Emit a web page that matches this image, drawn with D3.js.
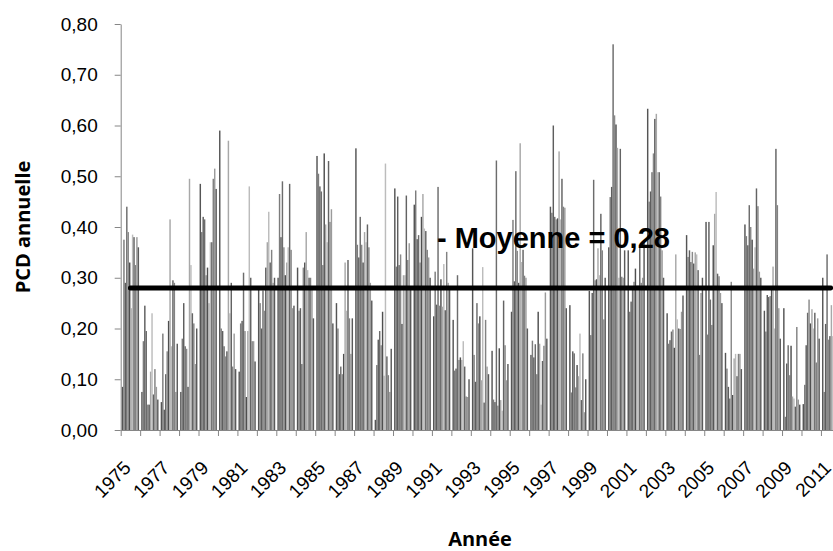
<!DOCTYPE html>
<html>
<head>
<meta charset="utf-8">
<script src="https://cdn.jsdelivr.net/npm/d3@7"></script>
<style>
  body { margin: 0; background: #fff; overflow: hidden; }
</style>
</head>
<body>
<div id="chart"></div>
<script>
// categories (years) and the labels shown every other year
var annees = [1975, 1976, 1977, 1978, 1979, 1980, 1981, 1982, 1983, 1984,
  1985, 1986, 1987, 1988, 1989, 1990, 1991, 1992, 1993, 1994,
  1995, 1996, 1997, 1998, 1999, 2000, 2001, 2002, 2003, 2004,
  2005, 2006, 2007, 2008, 2009, 2010, 2011];
var anneesAffichees = [1975, 1977, 1979, 1981, 1983, 1985, 1987, 1989, 1991,
  1993, 1995, 1997, 1999, 2001, 2003, 2005, 2007, 2009, 2011];
var yTicks = [0, 0.1, 0.2, 0.3, 0.4, 0.5, 0.6, 0.7, 0.8];
var moyenne = 0.28;

// 12 bars per year
var pcd = [
  [0.085, 0.375, 0.29, 0.44, 0.39, 0.33, 0.24, 0.385, 0.38, 0.325, 0.38, 0.36],     // 1975
  [0.075, 0.175, 0.245, 0.195, 0.05, 0.05, 0.115, 0.23, 0.07, 0.12, 0.085, 0.06],   // 1976
  [0.055, 0.19, 0.04, 0.11, 0.155, 0.215, 0.415, 0.165, 0.295, 0.29, 0.075, 0.17],  // 1977
  [0.075, 0.18, 0.25, 0.165, 0.16, 0.085, 0.495, 0.325, 0.23, 0.21, 0.13, 0.2],     // 1978
  [0.485, 0.39, 0.42, 0.415, 0.305, 0.32, 0.25, 0.37, 0.37, 0.495, 0.515, 0.475],   // 1979
  [0.59, 0.2, 0.195, 0.165, 0.145, 0.155, 0.57, 0.23, 0.29, 0.125, 0.19, 0.12],     // 1980
  [0.115, 0.21, 0.215, 0.31, 0.195, 0.065, 0.195, 0.48, 0.3, 0.175, 0.175, 0.135],  // 1981
  [0.28, 0.25, 0.2, 0.275, 0.235, 0.32, 0.37, 0.43, 0.33, 0.355, 0.29, 0.3],        // 1982
  [0.3, 0.465, 0.38, 0.49, 0.36, 0.305, 0.33, 0.36, 0.485, 0.355, 0.24, 0.245],     // 1983
  [0.32, 0.235, 0.24, 0.13, 0.32, 0.33, 0.39, 0.315, 0.3, 0.3, 0.28, 0.22],         // 1984
  [0.54, 0.505, 0.48, 0.47, 0.325, 0.545, 0.405, 0.37, 0.53, 0.41, 0.435, 0.21],    // 1985
  [0.25, 0.2, 0.11, 0.125, 0.11, 0.15, 0.33, 0.235, 0.335, 0.22, 0.15, 0.22],       // 1986
  [0.555, 0.365, 0.34, 0.42, 0.365, 0.33, 0.39, 0.37, 0.405, 0.36, 0.29, 0.255],    // 1987
  [0.02, 0.128, 0.178, 0.195, 0.167, 0.233, 0.107, 0.525, 0.145, 0.108, 0.075, 0.16], // 1988
  [0.476, 0.322, 0.46, 0.325, 0.346, 0.209, 0.305, 0.305, 0.462, 0.335, 0.368, 0.28], // 1989
  [0.444, 0.472, 0.376, 0.384, 0.33, 0.42, 0.465, 0.397, 0.392, 0.355, 0.34, 0.3],  // 1990
  [0.224, 0.312, 0.247, 0.479, 0.245, 0.297, 0.243, 0.327, 0.236, 0.351, 0.29, 0.28], // 1991
  [0.217, 0.117, 0.121, 0.305, 0.138, 0.143, 0.138, 0.175, 0.125, 0.066, 0.065, 0.1], // 1992
  [0.358, 0.148, 0.095, 0.25, 0.21, 0.224, 0.098, 0.321, 0.054, 0.217, 0.125, 0.11], // 1993
  [0.156, 0.06, 0.055, 0.531, 0.048, 0.161, 0.059, 0.038, 0.255, 0.167, 0.098, 0.13], // 1994
  [0.233, 0.414, 0.293, 0.51, 0.353, 0.29, 0.565, 0.331, 0.355, 0.304, 0.3, 0.2],   // 1995
  [0.148, 0.176, 0.143, 0.169, 0.11, 0.233, 0.17, 0.05, 0.136, 0.166, 0.271, 0.18], // 1996
  [0.44, 0.428, 0.6, 0.42, 0.415, 0.417, 0.549, 0.415, 0.495, 0.44, 0.438, 0.24],   // 1997
  [0.246, 0.074, 0.155, 0.151, 0.084, 0.128, 0.106, 0.19, 0.059, 0.151, 0.035, 0.1], // 1998
  [0.274, 0.187, 0.27, 0.493, 0.295, 0.297, 0.358, 0.305, 0.426, 0.354, 0.218, 0.3], // 1999
  [0.36, 0.459, 0.479, 0.76, 0.62, 0.602, 0.556, 0.3, 0.554, 0.302, 0.3, 0.354],    // 2000
  [0.354, 0.233, 0.253, 0.279, 0.292, 0.318, 0.285, 0.285, 0.36, 0.29, 0.3, 0.374], // 2001
  [0.633, 0.45, 0.47, 0.508, 0.545, 0.613, 0.623, 0.508, 0.508, 0.46, 0.354, 0.3], // 2002
  [0.23, 0.17, 0.177, 0.194, 0.198, 0.162, 0.346, 0.218, 0.2, 0.199, 0.233, 0.265], // 2003
  [0.384, 0.341, 0.354, 0.331, 0.351, 0.328, 0.35, 0.346, 0.315, 0.148, 0.27, 0.3], // 2004
  [0.41, 0.188, 0.41, 0.257, 0.207, 0.364, 0.426, 0.469, 0.308, 0.303, 0.27, 0.25], // 2005
  [0.152, 0.121, 0.085, 0.062, 0.292, 0.069, 0.141, 0.15, 0.106, 0.15, 0.15, 0.12], // 2006
  [0.405, 0.382, 0.364, 0.443, 0.4, 0.375, 0.318, 0.36, 0.476, 0.441, 0.312, 0.3],  // 2007
  [0.235, 0.194, 0.266, 0.262, 0.264, 0.279, 0.322, 0.2, 0.554, 0.443, 0.24, 0.18], // 2008
  [0.24, 0.026, 0.131, 0.167, 0.108, 0.166, 0.066, 0.062, 0.046, 0.203, 0.06, 0.05], // 2009
  [0.051, 0.089, 0.167, 0.231, 0.257, 0.21, 0.238, 0.2, 0.231, 0.133, 0.22, 0.18], // 2010
  [0.3, 0.075, 0.209, 0.346, 0.178, 0.185, 0.246, 0.185, 0.2, 0.2, 0.2, 0.2]        // 2011
];

// one grey per series
var gris = ["#555555", "#7c7c7c", "#5e5e5e", "#6c6c6c", "#8a8a8a", "#4f4f4f",
  "#a8a8a8", "#bcbcbc", "#636363", "#828282", "#9b9b9b", "#5a5a5a"];

var svgWidth = 833;
var svgHeight = 551;
var plotLeft = 120.7, plotRight = 840.4, plotTop = 24, plotBottom = 430;

var svg = d3.select("#chart")
  .append("svg")
  .attr("width", svgWidth)
  .attr("height", svgHeight)
  .style("background", "#fff");

// scales
var gap = 1.5 / 13.5;
var x0 = d3.scaleBand()
  .domain(annees)
  .range([plotLeft, plotRight])
  .paddingInner(gap)
  .paddingOuter(gap / 2);
var x1 = d3.scaleBand()
  .domain(d3.range(12))
  .range([0, x0.bandwidth()]);
var xAnnee = d3.scaleLinear()
  .domain([1975, 2012])
  .range([plotLeft, plotRight]);
var y = d3.scaleLinear()
  .domain([0, 0.8])
  .range([plotBottom, plotTop]);

var virgule = function(d) { return d3.format(".2f")(d).replace(".", ","); };

// bars
var groupes = svg.append("g").selectAll("g")
  .data(pcd)
  .enter()
  .append("g")
  .attr("transform", (d, i) => `translate(${x0(annees[i])},0)`);

groupes.selectAll("rect")
  .data(d => d)
  .enter()
  .append("rect")
  .attr("x", (d, i) => x1(i))
  .attr("width", x1.bandwidth())
  .attr("y", d => y(d))
  .attr("height", d => plotBottom - y(d))
  .attr("fill", (d, i) => gris[i]);

// y axis
var yAxis = svg.append("g")
  .attr("transform", `translate(${plotLeft},0)`)
  .call(d3.axisLeft(y).tickValues(yTicks).tickSize(6).tickSizeOuter(0)
    .tickPadding(17).tickFormat(virgule));
yAxis.selectAll("text")
  .attr("font-family", "'Liberation Sans', Arial, sans-serif")
  .attr("font-size", 19)
  .attr("fill", "#000");

// x axis: tick marks between years
var xAxis = svg.append("g")
  .attr("transform", `translate(0,${plotBottom})`)
  .call(d3.axisBottom(xAnnee).tickValues(d3.range(1975, 2013)).tickSize(6)
    .tickSizeOuter(0).tickFormat(""));

svg.selectAll(".domain, .tick line")
  .attr("stroke", "#868686");

// year labels, rotated
svg.append("g").selectAll("text")
  .data(anneesAffichees)
  .enter()
  .append("text")
  .attr("transform", d => `translate(${xAnnee(d + 0.5) + 1.5},469) rotate(-45)`)
  .attr("text-anchor", "end")
  .attr("font-family", "'Liberation Sans', Arial, sans-serif")
  .attr("font-size", 19)
  .attr("fill", "#000")
  .text(d => d);

// mean line
var ligne = d3.line()
  .x(d => x0(d) + x0.bandwidth() / 2)
  .y(() => y(moyenne));
svg.append("path")
  .datum(annees)
  .attr("d", ligne)
  .attr("fill", "none")
  .attr("stroke", "#000")
  .attr("stroke-width", 5)
  .attr("stroke-linecap", "round");

svg.append("text")
  .attr("x", 437)
  .attr("y", 248)
  .attr("font-family", "'Liberation Sans', Arial, sans-serif")
  .attr("font-weight", "bold")
  .attr("font-size", 29)
  .attr("fill", "#000")
  .text("- Moyenne = " + virgule(moyenne));

// axis titles
svg.append("text")
  .attr("transform", "translate(30,227) rotate(-90)")
  .attr("text-anchor", "middle")
  .attr("font-family", "'Open Sans', sans-serif")
  .attr("font-weight", "bold")
  .attr("font-size", 20)
  .attr("fill", "#000")
  .text("PCD annuelle");

svg.append("text")
  .attr("x", 480)
  .attr("y", 546)
  .attr("text-anchor", "middle")
  .attr("font-family", "'Open Sans', sans-serif")
  .attr("font-weight", "bold")
  .attr("font-size", 20)
  .attr("fill", "#000")
  .text("Année");
</script>
</body>
</html>
